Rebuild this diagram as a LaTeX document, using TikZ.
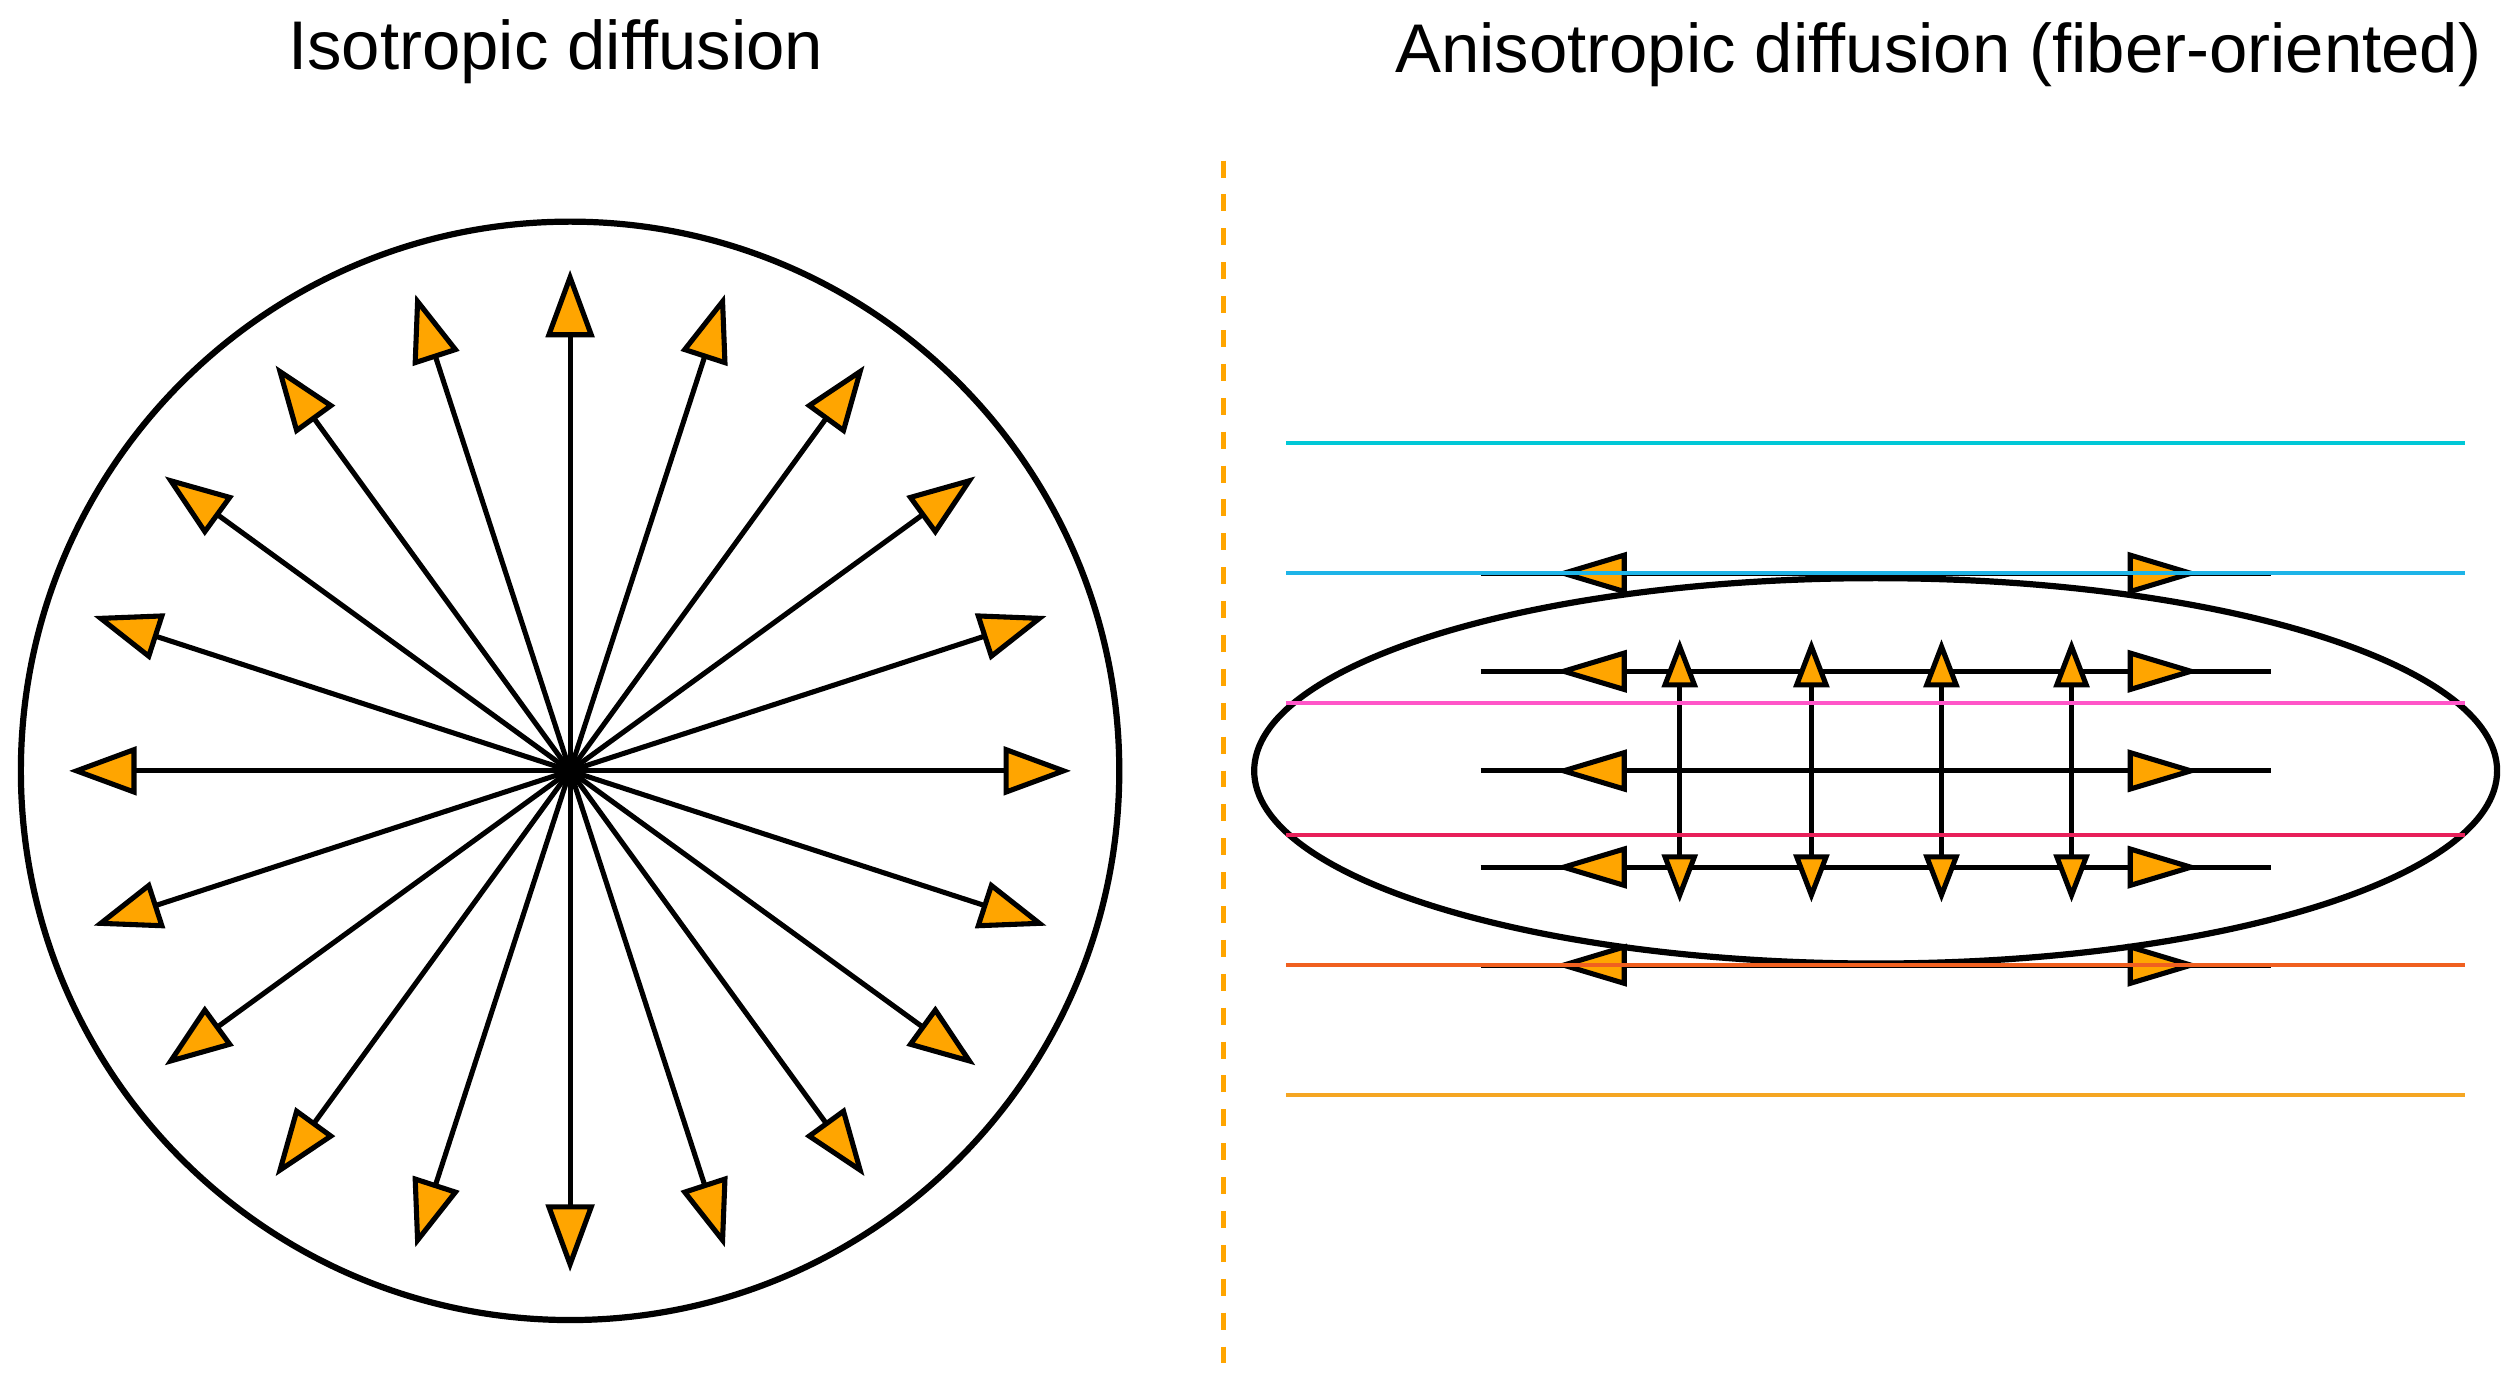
\documentclass[tikz,border=0pt]{standalone}
\usepackage{fontspec}
\setmainfont{Liberation Sans}
\usetikzlibrary{arrows.meta}
\definecolor{arrOr}{HTML}{FFA500}
\begin{document}
\begin{tikzpicture}[x=0.01cm,y=-0.01cm,
  big/.style={line width=0.9pt,-{Triangle[length=0.42cm,width=0.3cm,fill=arrOr]}},
  hh/.style={line width=0.9pt,-{Triangle[length=0.45cm,width=0.26cm,fill=arrOr]}},
  vv/.style={line width=0.9pt,{Triangle[length=0.3cm,width=0.22cm,fill=arrOr]}-{Triangle[length=0.3cm,width=0.22cm,fill=arrOr]}},
  ttl/.style={font=\fontsize{12.2}{14}\selectfont},
  fib/.style={line width=0.7pt}]
\useasboundingbox (0,0) rectangle (1568,859);
\node[ttl] (t1) at (346,32) {Isotropic diffusion};
\node[ttl] (t2) at (1207,34) {Anisotropic diffusion (fiber-oriented)};
% left
\coordinate (c) at (355,480);
\draw[line width=1.1pt] (c) circle[radius=342];
\foreach \a in {0,18,...,342}{
  \draw[big] (c) -- ++(\a:312);
}
% divider
\draw[arrOr,dashed,line width=0.8pt] (762,100) -- (762,852);
% ellipse
\draw[line width=1.1pt] (1168,480) ellipse[x radius=387,y radius=120];
% horizontal arrows
\foreach \y in {357,418,480,540,601}{
  \draw[line width=0.9pt] (922,\y) -- (1414,\y);
  \draw[hh] (1168,\y) -- (968,\y);
  \draw[hh] (1168,\y) -- (1370,\y);
}
% vertical arrows
\foreach \x in {1046,1128,1209,1290}{
  \draw[vv] (\x,398) -- (\x,562);
}
% fibers
\draw[fib,color={rgb,255:red,0;green,200;blue,215}] (801,276) -- (1535,276);
\draw[fib,color={rgb,255:red,30;green,180;blue,232}] (801,357) -- (1535,357);
\draw[fib,color={rgb,255:red,255;green,85;blue,200}] (801,438) -- (1535,438);
\draw[fib,color={rgb,255:red,232;green,32;blue,90}] (801,520) -- (1535,520);
\draw[fib,color={rgb,255:red,240;green,96;blue,32}] (801,601) -- (1535,601);
\draw[fib,color={rgb,255:red,245;green,166;blue,35}] (801,682) -- (1535,682);
\end{tikzpicture}
\end{document}
